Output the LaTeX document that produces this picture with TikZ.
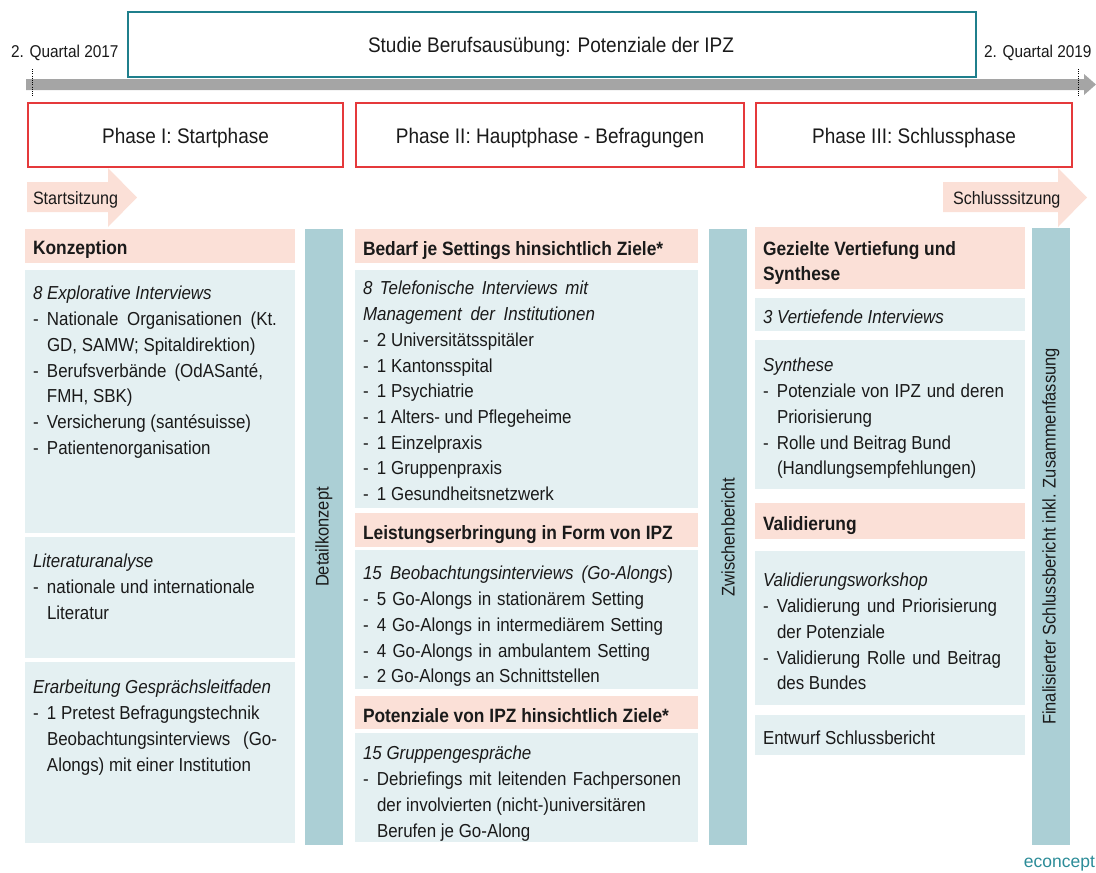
\documentclass[tikz,border=0pt]{standalone}
\usepackage{fontspec}
\setmainfont{Liberation Sans}[FakeStretch=0.9]
\newfontfamily\logofont{Liberation Sans}
\definecolor{pinkc}{HTML}{FBE0D7}
\definecolor{boxc}{HTML}{E4F0F2}
\definecolor{barc}{HTML}{ABCFD5}
\definecolor{redc}{HTML}{E5393B}
\definecolor{tealc}{HTML}{1F7F8C}
\definecolor{grayc}{HTML}{A5A5A5}
\definecolor{econc}{HTML}{2C8C98}
\definecolor{txt}{HTML}{1A1A1A}
\newcommand{\dl}{\makebox[14pt][l]{-}}
\newcommand{\ind}{\hspace*{14pt}}
\newcommand{\jl}[2]{\makebox[#1pt][s]{#2}}
\begin{document}
\begin{tikzpicture}[x=1pt,y=-1pt,
  every node/.style={inner sep=0pt, outer sep=0pt, text=txt},
  hdrbox/.style={fill=pinkc, anchor=north west},
  cbox/.style={fill=boxc, anchor=north west},
  vbar/.style={fill=barc, rotate=90, font=\fontsize{18.3}{20}\selectfont},
  phasebox/.style={draw=redc, line width=1.6pt, anchor=north west},
  phasetext/.style={anchor=base, font=\fontsize{21.1}{24}\selectfont},
  body/.style={anchor=north west, align=left, font=\fontsize{18.8}{25.7}\selectfont},
  hdr/.style={anchor=base west, font=\bfseries\fontsize{19.3}{25}\selectfont},
  datetext/.style={anchor=base west, font=\fontsize{17.1}{20}\selectfont},
  arrtext/.style={anchor=base west, font=\fontsize{17.9}{20}\selectfont},
]
\useasboundingbox (0,0) rectangle (1096,873);

% title box
\node[draw=tealc, line width=1.4pt, anchor=north west, minimum width=848pt, minimum height=65pt] (study) at (128,12) {};
\node[phasetext] (studyt) at (551,52) {Studie Berufsausübung: Potenziale der IPZ};

% timeline
\fill[grayc] (26,79) -- (1084,79) -- (1084,74) -- (1096,84.5) -- (1084,95) -- (1084,90) -- (26,90) -- cycle;
\coordinate (d1a) at (32,69); \coordinate (d1b) at (32,96);
\coordinate (d2a) at (1078,69); \coordinate (d2b) at (1078,96);
\draw[line width=1pt, dash pattern=on 1pt off 1.2pt] (d1a) -- (d1b);
\draw[line width=1pt, dash pattern=on 1pt off 1.2pt] (d2a) -- (d2b);
\node[datetext] (q17) at (11,57) {2. Quartal 2017};
\node[datetext] (q19) at (984,57) {2. Quartal 2019};

% phases
\node[phasebox, minimum width=315pt, minimum height=64pt] (p1) at (28,103) {};
\node[phasebox, minimum width=388pt, minimum height=64pt] (p2) at (356,103) {};
\node[phasebox, minimum width=316pt, minimum height=64pt] (p3) at (756,103) {};
\node[phasetext] (p1t) at (185.5,143) {Phase I: Startphase};
\node[phasetext] (p2t) at (550,143) {Phase II: Hauptphase - Befragungen};
\node[phasetext] (p3t) at (914,143) {Phase III: Schlussphase};

% start / end arrows
\fill[pinkc] (27,182) -- (108,182) -- (108,168) -- (137,197.5) -- (108,227) -- (108,212) -- (27,212) -- cycle;
\node[arrtext] (start) at (33,204) {Startsitzung};
\fill[pinkc] (943,182) -- (1058,182) -- (1058,168) -- (1087,197.5) -- (1058,227) -- (1058,212) -- (943,212) -- cycle;
\node[arrtext] (ende) at (953,204) {Schlusssitzung};

% column I
\node[hdrbox, minimum width=270pt, minimum height=34pt] (h1) at (25,229) {};
\node[hdr] (h1t) at (33,254) {Konzeption};
\node[cbox, minimum width=270pt, minimum height=263pt] (b11) at (25,270) {};
\node[cbox, minimum width=270pt, minimum height=121pt] (b12) at (25,537) {};
\node[cbox, minimum width=270pt, minimum height=181pt] (b13) at (25,662) {};
\node[body] (b11t) at (33,282) {\strut\textit{8 Explorative Interviews}\\
\dl \jl{230}{Nationale Organisationen (Kt.}\\
\ind GD, SAMW; Spitaldirektion)\\
\dl \jl{216}{Berufsverbände (OdASanté,}\\
\ind FMH, SBK)\\
\dl Versicherung (santésuisse)\\
\dl Patientenorganisation};
\node[body] (b12t) at (33,550) {\strut\textit{Literaturanalyse}\\
\dl nationale und internationale\\
\ind Literatur};
\node[body] (b13t) at (33,676) {\strut\textit{Erarbeitung Gesprächsleitfaden}\\
\dl 1 Pretest Befragungstechnik\\
\ind \jl{230}{Beobachtungsinterviews (Go-}\\
\ind Alongs) mit einer Institution};

\node[vbar, minimum width=616pt, minimum height=38pt] (det) at (324,537) {Detailkonzept};

% column II
\node[hdrbox, minimum width=343pt, minimum height=34pt] (h21) at (355,229) {};
\node[hdr] (h21t) at (363,255) {Bedarf je Settings hinsichtlich Ziele*};
\node[cbox, minimum width=343pt, minimum height=238pt] (b21) at (355,270) {};
\node[body] (b21t) at (363,277) {\strut\jl{225}{\itshape 8 Telefonische Interviews mit}\\
\jl{232}{\itshape Management der Institutionen}\\
\dl 2 Universitätsspitäler\\
\dl 1 Kantonsspital\\
\dl 1 Psychiatrie\\
\dl 1 Alters- und Pflegeheime\\
\dl 1 Einzelpraxis\\
\dl 1 Gruppenpraxis\\
\dl 1 Gesundheitsnetzwerk};
\node[hdrbox, minimum width=343pt, minimum height=34pt] (h22) at (355,513) {};
\node[hdr] (h22t) at (363,539) {Leistungserbringung in Form von IPZ};
\node[cbox, minimum width=343pt, minimum height=139pt] (b22) at (355,550) {};
\node[body] (b22t) at (363,562) {\strut\jl{310}{\itshape 15 Beobachtungsinterviews (Go-Alongs\/\upshape)}\\
\dl \jl{267}{5 Go-Alongs in stationärem Setting}\\
\dl \jl{286}{4 Go-Alongs in intermediärem Setting}\\
\dl \jl{273}{4 Go-Alongs in ambulantem Setting}\\
\dl 2 Go-Alongs an Schnittstellen};
\node[hdrbox, minimum width=343pt, minimum height=33pt] (h23) at (355,696) {};
\node[hdr] (h23t) at (363,722) {Potenziale von IPZ hinsichtlich Ziele*};
\node[cbox, minimum width=343pt, minimum height=109pt] (b23) at (355,733) {};
\node[body] (b23t) at (363,742) {\strut\textit{15 Gruppengespräche}\\
\dl \jl{304}{Debriefings mit leitenden Fachpersonen}\\
\ind der involvierten (nicht-)universitären\\
\ind Berufen je Go-Along};

\node[vbar, minimum width=616pt, minimum height=38pt] (zw) at (728,537) {Zwischenbericht};

% column III
\node[hdrbox, minimum width=270pt, minimum height=62pt] (h31) at (755,227) {};
\node[body, font=\bfseries\fontsize{19.3}{25}\selectfont] (h31t) at (763,237.5) {\strut Gezielte Vertiefung und\\ Synthese};
\node[cbox, minimum width=270pt, minimum height=33pt] (b31) at (755,298) {};
\node[body] (b31t) at (763,306) {\strut\textit{3 Vertiefende Interviews}};
\node[cbox, minimum width=270pt, minimum height=149pt] (b32) at (755,340) {};
\node[body] (b32t) at (763,354) {\strut\textit{Synthese}\\
\dl \jl{227}{Potenziale von IPZ und deren}\\
\ind Priorisierung\\
\dl Rolle und Beitrag Bund\\
\ind (Handlungsempfehlungen)};
\node[hdrbox, minimum width=270pt, minimum height=36pt] (h32) at (755,503) {};
\node[hdr] (h32t) at (763,530) {Validierung};
\node[cbox, minimum width=270pt, minimum height=154pt] (b33) at (755,551) {};
\node[body] (b33t) at (763,569) {\strut\textit{Validierungsworkshop}\\
\dl \jl{220}{Validierung und Priorisierung}\\
\ind der Potenziale\\
\dl \jl{224}{Validierung Rolle und Beitrag}\\
\ind des Bundes};
\node[cbox, minimum width=270pt, minimum height=40pt] (b34) at (755,715) {};
\node[body] (b34t) at (763,727) {\strut Entwurf Schlussbericht};

\node[vbar, minimum width=617pt, minimum height=38pt] (fin) at (1051,536.5) {Finalisierter Schlussbericht inkl. Zusammenfassung};

% logo
\node[anchor=base east, font=\logofont\fontsize{17.5}{20}\selectfont, text=econc] (logo) at (1095,867) {econcept};
\end{tikzpicture}
\end{document}
